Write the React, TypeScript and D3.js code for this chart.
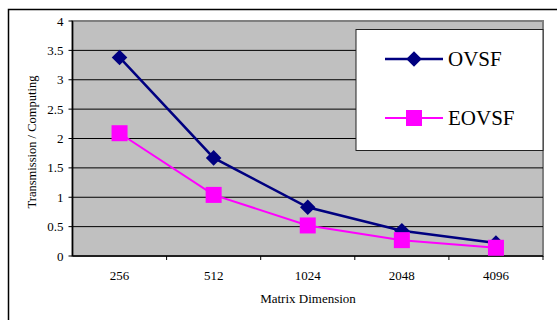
import React from "react";
import * as d3 from "d3";

const categories = ["256", "512", "1024", "2048", "4096"];
const ovsf = [3.38, 1.67, 0.83, 0.43, 0.22];
const eovsf = [2.09, 1.04, 0.52, 0.27, 0.14];
const yTicks = [0, 0.5, 1, 1.5, 2, 2.5, 3, 3.5, 4];
const seriesNames = ["OVSF", "EOVSF"];

const W = 557;
const H = 320;
const plot = { left: 72.5, right: 543, top: 21, bottom: 256 };
const ts = { fontFamily: "Liberation Serif" };

export default function App() {
  const x = d3.scaleBand().domain(categories).range([plot.left, plot.right]);
  const y = d3.scaleLinear().domain([0, 4]).range([plot.bottom, plot.top]);
  const cx = (c: string) => (x(c) as number) + x.bandwidth() / 2;
  const line = d3
    .line<number>()
    .x((_, i) => cx(categories[i]))
    .y((d) => y(d));

  const boundaries = categories.slice(1).map((c) => x(c) as number);

  return (
    <svg
      width={W}
      height={H}
      style={{ position: "absolute", left: 0, top: 0, display: "block" }}
    >
      <rect x={0} y={0} width={W} height={H} fill="#fff" />
      {/* outer chart frame */}
      <path d={`M8.5,${H} V9.5 H${W}`} fill="none" stroke="#000" strokeWidth={1.5} />

      {/* plot area */}
      <rect
        x={plot.left}
        y={plot.top}
        width={plot.right - plot.left}
        height={plot.bottom - plot.top}
        fill="#c0c0c0"
        stroke="#808080"
        strokeWidth={2}
      />
      {yTicks.slice(1, -1).map((t) => (
        <line
          key={t}
          x1={plot.left}
          x2={plot.right}
          y1={y(t)}
          y2={y(t)}
          stroke="#000"
          strokeWidth={1}
        />
      ))}
      {/* axes */}
      <line x1={plot.left} x2={plot.left} y1={plot.top} y2={plot.bottom} stroke="#000" strokeWidth={1.5} />
      <line x1={plot.left} x2={plot.right} y1={plot.bottom} y2={plot.bottom} stroke="#000" strokeWidth={1.5} />
      {yTicks.map((t) => (
        <line key={t} x1={plot.left - 4} x2={plot.left} y1={y(t)} y2={y(t)} stroke="#000" />
      ))}
      {[...boundaries, plot.right].map((b, i) => (
        <line key={i} x1={b} x2={b} y1={plot.bottom} y2={plot.bottom + 4} stroke="#000" />
      ))}
      {yTicks.map((t) => (
        <text key={t} style={ts} x={63.5} y={y(t)} dy="0.35em" textAnchor="end" fontSize={13}>
          {t}
        </text>
      ))}
      {categories.map((c) => (
        <text key={c} style={ts} x={cx(c)} y={275} dy="0.35em" textAnchor="middle" fontSize={13}>
          {c}
        </text>
      ))}
      <text style={ts} x={308} y={298} dy="0.35em" textAnchor="middle" fontSize={13}>
        Matrix Dimension
      </text>
      <text
        style={ts}
        transform={`translate(32,142) rotate(-90)`}
        dy="0.35em"
        textAnchor="middle"
        fontSize={12.5}
      >
        Transmission / Computing
      </text>

      {/* series */}
      <path d={line(ovsf) as string} fill="none" stroke="#000080" strokeWidth={2.5} />
      <path d={line(eovsf) as string} fill="none" stroke="#ff00ff" strokeWidth={2} />
      {ovsf.map((v, i) => (
        <rect
          key={i}
          x={-5.5}
          y={-5.5}
          width={11}
          height={11}
          fill="#000080"
          transform={`translate(${cx(categories[i])},${y(v)}) rotate(45)`}
        />
      ))}
      {eovsf.map((v, i) => (
        <rect
          key={i}
          x={cx(categories[i]) - 8}
          y={y(v) - 8}
          width={16}
          height={16}
          fill="#ff00ff"
        />
      ))}

      {/* legend */}
      <rect x={356} y={29.5} width={187} height={121} fill="#fff" stroke="#222" strokeWidth={1} />
      <line x1={385} x2={443} y1={59} y2={59} stroke="#000080" strokeWidth={2.5} />
      <rect x={-5.5} y={-5.5} width={11} height={11} fill="#000080" transform="translate(414,59) rotate(45)" />
      <text style={ts} x={448} y={59} dy="0.35em" fontSize={21}>
        {seriesNames[0]}
      </text>
      <line x1={385} x2={443} y1={118} y2={118} stroke="#ff00ff" strokeWidth={2} />
      <rect x={406} y={110} width={16} height={16} fill="#ff00ff" />
      <text style={ts} x={448} y={118} dy="0.35em" fontSize={21}>
        {seriesNames[1]}
      </text>
    </svg>
  );
}
